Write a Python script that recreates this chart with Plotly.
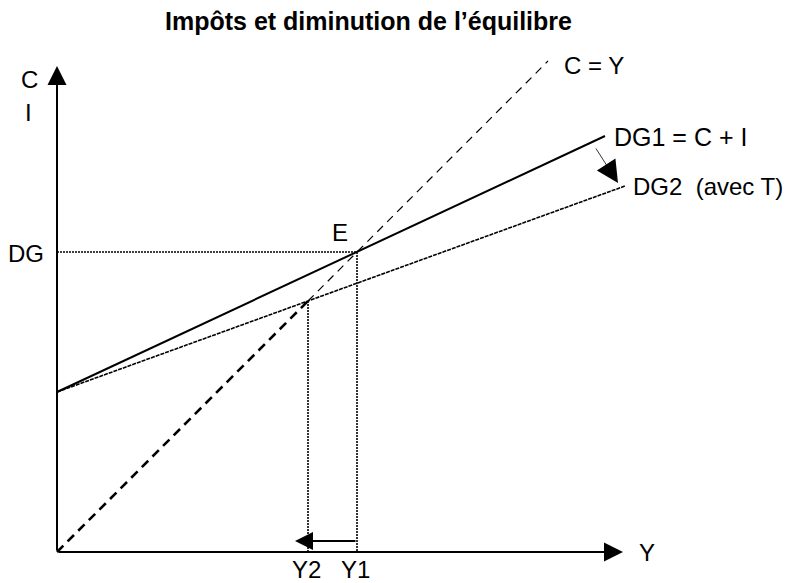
import plotly.graph_objects as go

# diagram values (units)
axis_x_end = 566
axis_y_end = 486

cy_x = [0, 251, 491]          # C = Y (45 degree line)
cy_y = [0, 251, 491]

dg1_x = [0, 548]              # DG1 = C + I
dg1_y = [160, 416]

dg2_x = [0, 568]              # DG2 (avec T)
dg2_y = [160, 366]

E = (300, 300)                # equilibrium 1
E2 = (251, 251)               # equilibrium 2

FONT = "Liberation Sans, Arial, sans-serif"

fig = go.Figure()

# C = Y, thicker in the lower part
fig.add_trace(go.Scatter(x=cy_x[:2], y=cy_y[:2], mode='lines',
                         line=dict(color='black', width=2.6, dash='9px,6px')))
fig.add_trace(go.Scatter(x=cy_x[1:], y=cy_y[1:], mode='lines',
                         line=dict(color='black', width=1.2, dash='8px,6px')))

fig.add_trace(go.Scatter(x=dg1_x, y=dg1_y, mode='lines',
                         line=dict(color='black', width=2)))
fig.add_trace(go.Scatter(x=dg2_x, y=dg2_y, mode='lines',
                         line=dict(color='black', width=1.6, dash='4px,1px')))

# guide lines
fig.add_trace(go.Scatter(x=[0, E[0], E[0]], y=[E[1], E[1], 0], mode='lines',
                         line=dict(color='black', width=1.6, dash='2px,1px')))
fig.add_trace(go.Scatter(x=[E2[0], E2[0]], y=[E2[1], 0], mode='lines',
                         line=dict(color='black', width=1.6, dash='2px,1px')))

arrows = [
    # axes
    dict(x=0, y=axis_y_end, ax=0, ay=0, arrowwidth=2, arrowsize=1.9),
    dict(x=axis_x_end, y=0, ax=0, ay=0, arrowwidth=2, arrowsize=1.9),
    # Y1 -> Y2
    dict(x=E2[0] - 13, y=11, ax=E[0], ay=11, arrowwidth=2, arrowsize=1.8),
    # DG1 -> DG2
    dict(x=561, y=369, ax=538, ay=405, arrowwidth=0.8, arrowsize=5.5),
]
for a in arrows:
    fig.add_annotation(text='', showarrow=True, arrowhead=2, arrowcolor='black',
                       xref='x', yref='y', axref='x', ayref='y', standoff=0, **a)

labels = [
    ("C", -28, 473, 'center', 24),
    ("I", -29, 440, 'center', 24),
    ("DG", -31, 299, 'center', 24),
    ("E", 283, 320, 'center', 24),
    ("C = Y", 505, 487, 'left', 24),
    ("DG1 = C + I", 555, 415, 'left', 25),
    ("DG2  (avec T)", 574, 366, 'left', 24),
    ("Y2", 249, -17, 'center', 24),
    ("Y1", 298, -17, 'center', 24),
    ("Y", 580, 0, 'left', 24),
]
for t, x, y, anc, sz in labels:
    fig.add_annotation(text=t, x=x, y=y, xref='x', yref='y', showarrow=False,
                       xanchor=anc, yanchor='middle',
                       font=dict(family=FONT, size=sz, color='black'))

fig.add_annotation(text="<b>Impôts et diminution de l’équilibre</b>", x=311, y=531,
                   xref='x', yref='y', showarrow=False, xanchor='center', yanchor='middle',
                   font=dict(family=FONT, size=25, color='black'))

# the page puts the figure 8px in from the top-left corner
fig.update_layout(
    width=783, height=575, autosize=False,
    margin=dict(l=0, r=0, t=0, b=0, pad=0),
    paper_bgcolor='white', plot_bgcolor='white',
    showlegend=False,
    xaxis=dict(range=[-49, 734], visible=False, fixedrange=True),
    yaxis=dict(range=[-31, 544], visible=False, fixedrange=True),
)

fig.write_html("out.html")
